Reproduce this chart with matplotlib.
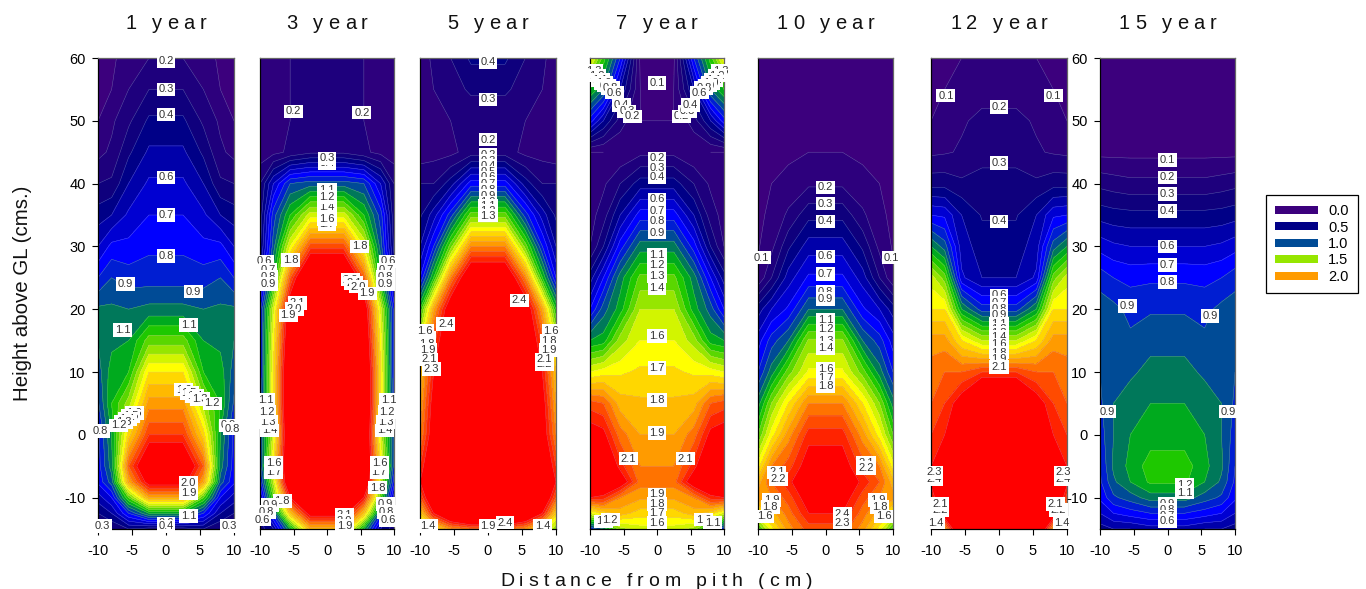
import numpy as np
import matplotlib
matplotlib.use("Agg")
import matplotlib.pyplot as plt
from matplotlib.colors import ListedColormap, BoundaryNorm
from matplotlib.patches import Patch
from matplotlib.text import Text
from matplotlib.transforms import IdentityTransform

plt.rcParams['font.family'] = ['Liberation Sans', 'DejaVu Sans']
plt.rcParams['axes.unicode_minus'] = False

W, H = 1366, 589

titles = ["1 year", "3 year", "5 year", "7 year", "10 year", "12 year", "15 year"]
heights = [-15, -12.5, -10, -7.5, -5, 0, 5, 10, 15, 20, 25, 30, 35, 40, 45, 50, 55, 60]
half_x = [2.5, 5.5, 8, 10]   # distance from pith of the four columns below

# each row: value at +-2.5, +-5.5, +-8, +-10 cm, from height -15 up to 60
year1 = [[.35,.4,.3,.28],[1.1,.8,.5,.4],[1.9,1.3,.7,.55],[2.4,1.9,.95,.72],[2.6,2.1,1.05,.75],
         [2.2,1.75,1.1,.77],[1.95,1.45,1.2,.88],[1.7,1.2,1.15,.95],[1.35,1.1,1.07,1.0],[1.03,1.0,1.02,1.02],
         [.85,.85,.9,.8],[.78,.73,.73,.6],[.7,.62,.5,.45],[.62,.5,.32,.3],[.52,.38,.22,.17],
         [.42,.28,.18,.1],[.3,.2,.1,.08],[.2,.15,.08,.05]]
year3 = [[1.85,1.1,.5,.35],[2.4,1.8,.85,.4],[2.8,2.3,1.3,.55],[3,2.7,1.5,.75],[3,2.7,1.7,.85],
         [3,2.7,1.55,.85],[3,2.7,1.7,.8],[3,2.7,1.7,.75],[3,2.6,1.65,.75],[3,2.5,1.55,.75],
         [2.8,2.1,1.15,.5],[2.15,1.6,.95,.37],[1.55,1.2,.85,.33],[.95,.9,.6,.3],[.28,.22,.17,.14],
         [.22,.2,.15,.14],[.22,.2,.15,.12],[.22,.2,.14,.1]]
year5 = [[2.05,1.95,1.7,1.4],[3,2.7,2.3,1.75],[3,2.9,2.6,2.1],[3,3,2.7,2.3],[3,2.9,2.6,2.2],
         [3,2.9,2.45,2.0],[3,2.8,2.4,1.9],[3,2.7,2.3,1.8],[3,2.6,2.15,1.55],[3,2.5,1.9,1.2],
         [2.6,2.0,1.2,.7],[2.0,1.35,.8,.5],[1.35,.85,.55,.38],[.75,.45,.3,.3],[.25,.17,.16,.14],
         [.22,.2,.17,.14],[.32,.25,.2,.15],[.42,.3,.22,.15]]
year7 = [[1.55,1.45,1.0,.8],[1.75,1.85,1.75,1.55],[1.92,2.0,2.25,2.3],[2.05,2.45,2.6,2.6],[2.0,2.25,2.6,2.6],
         [1.9,2.05,2.35,2.4],[1.82,1.85,2.1,2.15],[1.72,1.68,1.65,1.6],[1.6,1.45,1.15,1.1],[1.5,1.15,.95,.7],
         [1.33,1.05,.7,.45],[1.05,.75,.4,.2],[.75,.5,.25,.16],[.45,.3,.18,.12],[.17,.11,.1,.1],
         [.1,.25,.5,.75],[.1,.5,1.0,1.2],[.08,.8,1.25,1.65]]
year10 = [[2.15,1.95,1.65,1.25],[2.3,2.05,1.85,1.65],[2.4,2.15,2.0,1.95],[2.45,2.27,2.1,1.85],[2.4,2.15,2.0,1.65],
          [2.25,1.95,1.65,1.3],[2.0,1.7,1.4,1.05],[1.62,1.35,1.05,.8],[1.42,1.0,.85,.65],[1.0,.72,.6,.45],
          [.72,.55,.3,.12],[.55,.38,.17,.09],[.37,.22,.12,.08],[.18,.13,.1,.07],[.1,.08,.06,.05],
          [.04,.04,.04,.04],[.03,.03,.03,.03],[.02,.02,.02,.02]]
year12 = [[3,2.8,1.85,1.0],[3,2.9,2.5,1.7],[3,3,2.7,2.15],[3,3,2.7,2.35],[3,3,2.5,2.3],
          [3,2.8,2.3,2.2],[2.8,2.4,2.2,2.1],[2.2,2.1,2.1,2.05],[1.5,1.7,1.95,1.95],[.85,1.1,1.7,1.7],
          [.5,.62,1.35,1.55],[.45,.55,.95,1.1],[.39,.5,.68,.7],[.33,.32,.36,.36],[.27,.21,.19,.18],
          [.22,.19,.14,.1],[.17,.13,.1,.07],[.13,.1,.07,.05]]
year15 = [[.55,.5,.5,.45],[.8,.75,.7,.6],[1.05,.95,.88,.72],[1.22,1.1,.98,.78],[1.25,1.13,1.02,.8],
          [1.15,1.1,1.0,.85],[1.1,1.08,1.0,.88],[1.05,.97,.92,.9],[.95,.92,.92,.92],[.89,.87,.93,.95],
          [.78,.77,.8,.86],[.6,.6,.62,.66],[.43,.43,.44,.46],[.23,.23,.25,.27],[.07,.07,.07,.07],
          [.04,.04,.04,.04],[.03,.03,.03,.03],[.02,.02,.02,.02]]
tables = [year1, year3, year5, year7, year10, year12, year15]

levels = [0, .1, .2, .3, .4, .5, .6, .7, .8, .9, 1.0, 1.1, 1.2, 1.3, 1.4, 1.5, 1.6, 1.7, 1.8, 1.9, 2.0,
          2.1, 2.2, 2.3, 4.0]
band_rgb = [(60,0,125),(45,0,125),(30,0,125),(15,0,125),(0,0,135),(0,0,170),(0,0,210),(0,0,255),
            (0,30,210),(0,75,150),(0,120,90),(0,170,30),(30,200,0),(90,215,0),(150,230,0),(210,245,0),
            (255,255,0),(255,215,0),(255,185,0),(255,155,0),(255,115,0),(255,75,0),(255,35,0),(255,0,0)]
band_colors = [tuple(c / 255 for c in rgb) for rgb in band_rgb]

legend_values = ["0.0", "0.5", "1.0", "1.5", "2.0"]
legend_bands = [0, 4, 9, 14, 19]

labels1 = [(0,59.5,"0.2"),(0,55,"0.3"),(0,51,"0.4"),(0,41,"0.6"),(0,35,"0.7"),(0,28.5,"0.8"),(-6,24,"0.9"),
           (4,22.8,"0.9"),(-6.4,16.7,"1.1"),(3.3,17.5,"1.1"),(2.6,7.2,"1.6"),(3.4,6.7,"1.5"),(4.2,6.2,"1.4"),
           (5,5.7,"1.3"),(6.8,5,"1.2"),(-4.7,3.5,"1.6"),(-5.2,3,"1.5"),(-5.7,2.5,"1.4"),(-6.2,2,"1.3"),
           (-7,1.5,"1.2"),(-9.7,.6,"0.8"),(9.2,1.5,"0.9"),(9.8,1,"0.8"),(3.3,-7.7,"2.0"),(3.3,-9.3,"1.9"),
           (3.3,-12.9,"1.1"),(-9.3,-14.5,"0.3"),(9.3,-14.5,"0.3"),(0,-14.1,"0.6"),(0,-14.6,"0.4")]
labels3 = [(-5,51.5,"0.2"),(5.2,51.3,"0.2"),(0,43.3,"0.4"),(0,44,"0.3"),(0,39,"1.1"),(0,36.5,"1.3"),(0,36.2,"1.4"),
           (0,37.9,"1.2"),(0,33.5,"1.7"),(0,34.4,"1.6"),(4.9,30,"1.8"),(-5.4,27.8,"1.8"),(-9.3,27.6,"0.6"),
           (-8.8,26.3,"0.7"),(-8.7,25.1,"0.8"),(-8.7,24,"0.9"),(9.1,27.6,"0.6"),(8.8,26.3,"0.7"),(8.7,25.1,"0.8"),
           (8.7,24,"0.9"),(3.5,24.7,"2.2"),(4,24.2,"2.1"),(4.7,23.6,"2.0"),(6,22.5,"1.9"),(-4.4,21,"2.1"),
           (-4.9,20,"2.0"),(-5.8,19,"1.9"),(-9.2,5.5,"1.1"),(-8.6,.7,"1.4"),(-8.8,2,"1.3"),(-9,3.6,"1.2"),
           (-8,-6,"1.7"),(-8,-4.5,"1.6"),(9.2,5.5,"1.1"),(8.6,.7,"1.4"),(8.8,2,"1.3"),(9,3.6,"1.2"),(7.8,-6,"1.7"),
           (7.9,-4.5,"1.6"),(7.6,-8.4,"1.8"),(-6.7,-10.5,"1.8"),(-8.5,-11.2,"0.9"),(-9,-12.3,"0.8"),(-9.7,-13.5,"0.6"),
           (8.7,-11,"0.9"),(8.9,-12.3,"0.8"),(9.2,-13.6,"0.6"),(2.6,-12.7,"2.1"),(2.6,-13.7,"2.0"),(2.6,-14.5,"1.9")]
labels5 = [(0,59.4,"0.4"),(0,53.4,"0.3"),(0,47,"0.2"),(0,44.6,"0.2"),(0,43.6,"0.3"),(0,42.8,"0.4"),(0,41.8,"0.5"),
           (0,41,"0.6"),(0,40,"0.7"),(0,39,"0.8"),(0,38,"0.9"),(0,37,"1.0"),(0,36.4,"1.1"),(0,35.7,"1.2"),(0,34.9,"1.3"),
           (4.6,21.4,"2.4"),(-6.2,17.6,"2.4"),(-9.1,15.5,"1.7"),(-9,14.5,"1.8"),(-8.9,13.5,"1.9"),(-9.3,16.5,"1.6"),
           (-8.7,12,"2.1"),(-8.3,10.5,"2.3"),(9.3,16.5,"1.6"),(9,15,"1.8"),(8.9,13.5,"1.9"),(8.3,11.3,"2.2"),(8.3,12,"2.1"),
           (-8.8,-14.5,"1.4"),(0,-14.5,"1.9"),(2.5,-14,"2.4"),(8,-14.5,"1.4")]
labels7 = [(0,56,"0.1"),(0,44,"0.2"),(0,42.5,"0.3"),(0,41,"0.4"),(0,37.5,"0.6"),(0,35.7,"0.7"),(0,34,"0.8"),(0,32.2,"0.9"),
           (0,28.7,"1.1"),(0,27,"1.2"),(0,25.3,"1.3"),(0,23.4,"1.4"),(0,15.7,"1.6"),(0,10.6,"1.7"),(0,5.5,"1.8"),(0,.3,"1.9"),
           (-4.3,-3.8,"2.1"),(4.2,-3.8,"2.1"),(-9.5,58,"1.3"),(-9,57.2,"1.2"),(-8.5,56.5,"1.1"),(-8,56,"1.0"),(-7.5,55.6,"0.9"),
           (-7,55.2,"0.8"),(-6.3,54.5,"0.6"),(-5.3,52.5,"0.4"),(-4.5,51.5,"0.3"),(-3.7,50.7,"0.2"),(3.7,50.7,"0.2"),
           (4.5,51.5,"0.3"),(5,52.5,"0.4"),(9.5,58,"1.3"),(9,57.2,"1.2"),(8.5,56.5,"1.1"),(8,56,"1.0"),(7.5,55.6,"0.9"),
           (7,55.2,"0.8"),(6.3,54.5,"0.6"),(0,-9.5,"1.9"),(0,-11,"1.8"),(0,-12.5,"1.7"),(0,-14,"1.6"),(-8,-13.8,"1.1"),
           (-7,-13.5,"1.2"),(7,-13.5,"1.2"),(8.3,-14,"1.1")]
labels10 = [(-9.5,28.2,"0.1"),(9.7,28.2,"0.1"),(0,39.4,"0.2"),(0,36.8,"0.3"),(0,34,"0.4"),(0,28.4,"0.6"),(0,25.6,"0.7"),
            (0,22.8,"0.8"),(0,21.6,"0.9"),(0,18.3,"1.1"),(0,16.8,"1.2"),(0,15,"1.3"),(0,13.8,"1.4"),(0,10.5,"1.6"),(0,9,"1.7"),
            (0,7.7,"1.8"),(-7.2,-6,"2.1"),(-7,-7,"2.2"),(6,-4.5,"2.1"),(6,-5.3,"2.2"),(-8,-10.4,"1.9"),(-8.2,-11.5,"1.8"),
            (-9,-13,"1.6"),(7.7,-10.4,"1.9"),(8,-11.5,"1.8"),(8.6,-13,"1.6"),(2.5,-12.6,"2.4"),(2.5,-14,"2.3")]
labels12 = [(-7.8,54,"0.1"),(8,54,"0.1"),(0,52.2,"0.2"),(0,43.3,"0.3"),(0,34,"0.4"),(0,22.2,"0.6"),(0,21,"0.7"),(0,20,"0.8"),
            (0,19,"0.9"),(0,17.6,"1.1"),(0,16.8,"1.2"),(0,16.2,"1.3"),(0,15.6,"1.4"),(0,14.4,"1.6"),(0,13.1,"1.8"),(0,12,"1.9"),
            (0,10.8,"2.1"),(-9.6,-7,"2.4"),(-9.6,-6,"2.3"),(9.5,-7,"2.4"),(9.5,-6,"2.3"),(-8.7,-12,"2.2"),(-8.7,-11,"2.1"),
            (-9.3,-14,"1.4"),(8.7,-12,"2.2"),(8.3,-11,"2.1"),(9.3,-14,"1.4")]
labels15 = [(0,43.8,"0.1"),(0,41,"0.2"),(0,38.3,"0.3"),(0,35.6,"0.4"),(0,30,"0.6"),(0,27,"0.7"),(0,24.3,"0.8"),(-5.9,20.5,"0.9"),
            (6.3,18.9,"0.9"),(-9,3.7,"0.9"),(9,3.7,"0.9"),(2.5,-8,"1.2"),(2.5,-9.2,"1.1"),(0,-11,"0.9"),(0,-12,"0.8"),(0,-13,"0.7"),
            (0,-13.7,"0.6")]
all_labels = [labels1, labels3, labels5, labels7, labels10, labels12, labels15]

axes_px = [(98,234),(260,394),(420,556),(590,724),(758,893),(931,1067),(1100,1235)]
top_px, bottom_px = 58, 529


class SpacedText(Text):
    """One text object, drawn with extra space between its letters."""
    gap = 5.0

    def draw(self, renderer):
        s = self.get_text()
        fp = self.get_fontproperties()
        widths = [renderer.get_text_width_height_descent(c, fp, False)[0] for c in s]
        cap = renderer.get_text_width_height_descent("1", fp, False)[1]
        total = sum(widths) + self.gap * (len(s) - 1)
        x0, y0 = self.get_transform().transform(self.get_unitless_position())
        x = x0 - total / 2
        for c, w in zip(s, widths):
            t = Text(x, y0 - cap / 2, c, transform=IdentityTransform(), fontproperties=fp, color=self.get_color(),
                     ha='left', va='baseline')
            t.set_figure(self.get_figure(root=True))
            t.draw(renderer)
            x += w + self.gap


fig = plt.figure(figsize=(W / 100, H / 100), dpi=100)
cmap = ListedColormap(band_colors)
norm = BoundaryNorm(levels, cmap.N)

half = np.array(half_x)
xs = np.concatenate([-half[::-1], half])
ys = np.array(heights)

for i, (title, table, labs, (l, r)) in enumerate(zip(titles, tables, all_labels, axes_px)):
    ax = fig.add_axes([l / W, 1 - bottom_px / H, (r - l) / W, (bottom_px - top_px) / H])
    vals = np.array(table)
    z = np.hstack([vals[:, ::-1], vals])
    ax.contourf(xs, ys, z, levels=levels, cmap=cmap, norm=norm)
    ax.contour(xs, ys, z, levels=levels[1:-1], colors='#c8c8d8', linewidths=0.35, alpha=0.45)
    ax.set_xlim(-10, 10)
    ax.set_ylim(-15, 60)
    ax.set_xticks([-10, -5, 0, 5, 10])
    ax.tick_params(axis='x', labelsize=10.5, length=4, width=0.8, pad=7)
    if i in (0, 6):
        ax.set_yticks(range(-10, 61, 10))
        ax.tick_params(axis='y', labelsize=10.5, length=4, width=0.8, pad=5)
    else:
        ax.set_yticks([])
    for side in ('left', 'bottom'):
        ax.spines[side].set_color('black')
        ax.spines[side].set_linewidth(0.9)
    for side in ('top', 'right'):
        ax.spines[side].set_color('#666666')
        ax.spines[side].set_linewidth(0.9)
    for lx, ly, txt in labs:
        ax.text(lx, ly, txt, fontsize=8, color='#333333', ha='center', va='center', clip_on=False,
                bbox=dict(facecolor='white', edgecolor='none', boxstyle='square,pad=0.16'))
    tt = SpacedText((l + r) / 2 / W, 1 - 22 / H, title, transform=fig.transFigure, fontsize=14.5, color='#111111')
    fig.add_artist(tt)

xl = SpacedText(656 / W, 1 - 579 / H, "Distance from pith (cm)", transform=fig.transFigure, fontsize=14, color='#111111')
fig.add_artist(xl)
fig.text(23 / W, 1 - 293 / H, "Height above GL (cms.)", rotation=90, fontsize=14.8, ha='center', va='center', color='#111111')

handles = [Patch(facecolor=band_colors[b], edgecolor='none', label=v) for v, b in zip(legend_values, legend_bands)]
leg = fig.legend(handles=handles, loc='upper left', bbox_to_anchor=(1266 / W, 1 - 195 / H), borderaxespad=0,
                 fancybox=False, edgecolor='black', framealpha=1, fontsize=10.5, handlelength=2.95, handleheight=0.45,
                 labelspacing=0.17, borderpad=0.62, handletextpad=0.7)
leg.get_frame().set_linewidth(0.9)

fig.savefig("out.png", dpi=100)
